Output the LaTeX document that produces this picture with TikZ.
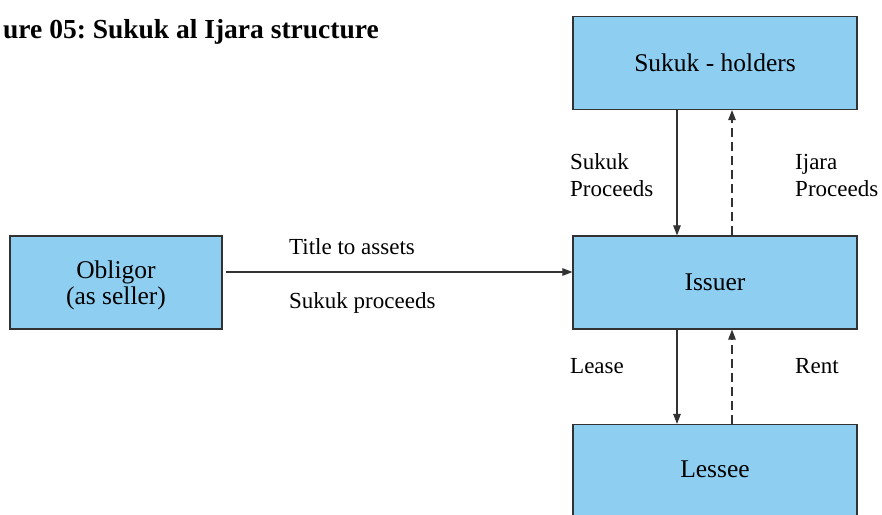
\documentclass[tikz,border=0pt]{standalone}
\usepackage{fontspec}
\setmainfont{Liberation Serif}
\usetikzlibrary{arrows.meta}
\definecolor{boxblue}{RGB}{141,206,241}
\definecolor{edgegray}{RGB}{50,50,50}
\frenchspacing
\begin{document}
\begin{tikzpicture}[x=1pt,y=-1pt,
  party/.style={draw=edgegray,line width=1.2pt,fill=boxblue,rectangle,
    minimum width=284pt,minimum height=93pt,inner sep=0pt,align=center,
    font=\fontsize{25.5}{26}\selectfont},
  lbl/.style={inner sep=0pt,align=left,font=\fontsize{23}{27}\selectfont},
  flow/.style={draw=edgegray,line width=1.1pt,-{Triangle[length=10pt,width=7.5pt]}},
  back/.style={flow,dash pattern=on 9pt off 5pt}]
  \useasboundingbox (0,0) rectangle (882,514);
  \clip (0,0) rectangle (882,514);
  \fill[white] (0,0) rectangle (882,514);

  % title
  \node[anchor=base east,inner sep=0pt,font=\fontsize{27.5}{30}\bfseries\selectfont]
    (title) at (379,38) {ure 05: Sukuk al Ijara structure};

  % parties
  \node[party] (holders) at (715,63) {Sukuk - holders};
  \node[party] (issuer) at (715,282.5) {Issuer};
  \node[party] (lessee) at (715,471) {\raisebox{2pt}[\height][\depth]{Lessee}};
  \node[party,minimum width=212pt] (obligor) at (116,282.5)
    {\raisebox{-3pt}[\height][\depth]{\shortstack{Obligor\\(as seller)}}};

  % flows
  \draw[flow] ([xshift=3pt,yshift=10.5pt]obligor.east) -- ([yshift=10.5pt]issuer.west);
  \draw[flow] ([xshift=-38pt]holders.south) -- ([xshift=-38pt]issuer.north);
  \draw[back] ([xshift=17pt]issuer.north) -- ([xshift=17pt]holders.south);
  \draw[flow] ([xshift=-38pt]issuer.south) -- ([xshift=-38pt]lessee.north);
  \draw[back] ([xshift=17pt]lessee.north) -- ([xshift=17pt]issuer.south);

  % labels
  \node[lbl,anchor=base west] (ltitle) at (289,254) {Title to assets};
  \node[lbl,anchor=base west] (lproc) at (289,308) {Sukuk proceeds};
  \node[lbl,anchor=west] (lsukuk) at (570,175.5) {Sukuk\\Proceeds};
  \node[lbl,anchor=west] (lijara) at (795,175.5) {Ijara\\Proceeds};
  \node[lbl,anchor=base west] (llease) at (570,373) {Lease};
  \node[lbl,anchor=base west] (lrent) at (795,373) {Rent};
\end{tikzpicture}
\end{document}
